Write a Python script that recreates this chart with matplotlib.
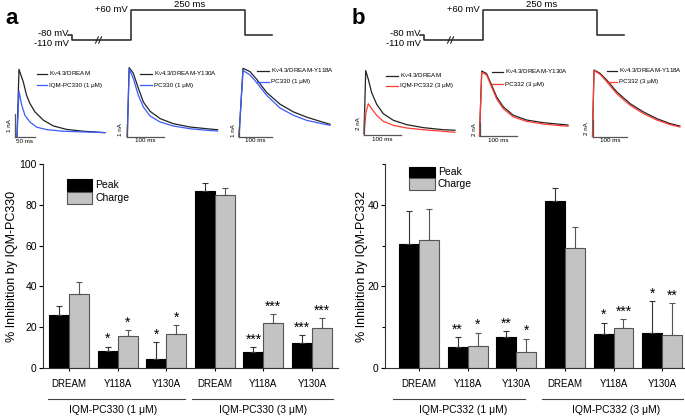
import numpy as np
import matplotlib
matplotlib.use('Agg')
import matplotlib.pyplot as plt
import matplotlib.transforms as mtransforms
from matplotlib.patches import Rectangle
from matplotlib.lines import Line2D

plt.rcParams['font.family'] = ['Liberation Sans', 'DejaVu Sans']
plt.rcParams['mathtext.fontset'] = 'custom'
plt.rcParams['mathtext.rm'] = 'Liberation Sans'

W, H = 685, 418

# ---- bar chart data ----
groups = ['DREAM', 'Y118A', 'Y130A', 'DREAM', 'Y118A', 'Y130A']

a_peak = [26, 8.5, 4.5, 87, 7.8, 12.5]
a_peak_err = [4.5, 2, 8.3, 3.7, 2.6, 3.5]
a_charge = [36.5, 15.5, 16.5, 85, 22, 19.5]
a_charge_err = [5.5, 3, 4.5, 3.3, 4.3, 4.8]
a_peak_stars = ['', '*', '*', '', '***', '***']
a_charge_stars = ['', '*', '*', '', '***', '***']

b_peak = [30.3, 5.2, 7.5, 41, 8.4, 8.7]
b_peak_err = [8.2, 2.3, 1.5, 3.1, 2.7, 7.7]
b_charge = [31.4, 5.5, 3.8, 29.4, 9.9, 8.0]
b_charge_err = [7.6, 3.2, 3.4, 5.2, 2.0, 7.9]
b_peak_stars = ['', '**', '**', '', '*', '*']
b_charge_stars = ['', '*', '*', '', '***', '**']

# ---- current traces (ms, nA) ----
a1_t_ctrl = [5, 10, 20.8, 29, 37.5, 50, 71, 96, 129, 171, 225]
a1_i_ctrl = [0, 2.94, 2.39, 1.81, 1.45, 1.09, 0.73, 0.48, 0.33, 0.25, 0.19]
a1_t_drug = [5, 10, 16.8, 25, 37.5, 54, 79, 121, 225]
a1_i_drug = [0, 1.99, 1.38, 0.94, 0.65, 0.43, 0.32, 0.25, 0.19]

a2_t = [2, 7.2, 18.4, 32, 45.6, 63.5, 90.5, 126, 171, 216, 246]
a2_i_ctrl = [0, 5.3, 4.86, 3.71, 2.65, 1.94, 1.38, 0.99, 0.73, 0.6, 0.52]
a2_i_drug = [0, 5.2, 4.46, 3.17, 2.27, 1.58, 1.12, 0.81, 0.6, 0.48, 0.42]

a3_t = [0, 12, 33, 53, 83, 123, 163, 203, 243, 273]
a3_i_ctrl = [0, 6.2, 5.9, 5.2, 4.0, 2.94, 2.24, 1.76, 1.38, 1.11]
a3_i_drug = [0, 6.0, 5.6, 4.9, 3.74, 2.59, 1.93, 1.47, 1.2, 1.02]

b1_t_ctrl = [1.4, 6, 13, 22, 35.6, 53.5, 80.5, 116.6, 161.5, 215.5, 247]
b1_i_ctrl = [0.1, 5.6, 4.84, 3.68, 2.67, 1.85, 1.28, 0.9, 0.64, 0.46, 0.41]
b1_t_drug = [1.4, 6.8, 13, 22, 35.6, 53.5, 80.5, 116.6, 161.5, 215.5, 247]
b1_i_drug = [0.1, 2.0, 2.72, 2.29, 1.71, 1.19, 0.84, 0.61, 0.46, 0.32, 0.23]

b2_t = [0, 6, 19, 33, 46.4, 64, 91, 127, 172, 208, 239]
b2_i_ctrl = [0, 10, 9.6, 7.8, 6.0, 4.5, 3.2, 2.46, 2.05, 1.85, 1.69]
b2_i_drug = [0, 9.8, 9.4, 7.5, 5.7, 4.2, 2.95, 2.25, 1.85, 1.65, 1.5]

b3_t = [0, 4.3, 21.5, 40.6, 69, 107, 145, 183, 221, 250]
b3_i_ctrl = [0, 8.06, 7.66, 6.85, 5.43, 4.0, 2.99, 2.18, 1.58, 1.27]
b3_i_drug = [0, 8.0, 7.54, 6.65, 5.19, 3.8, 2.79, 2.02, 1.45, 1.15]

# ---- voltage protocol (ms, mV) ----
prot_t = [-4, 4, 4, 133, 133, 383, 383, 442]
prot_v = [-80, -80, -110, -110, 60, 60, -80, -80]

fig = plt.figure(figsize=(W / 100, H / 100), dpi=100)


def px_axes(l, t, r, b):
    ax = fig.add_axes([l / W, 1 - b / H, (r - l) / W, (b - t) / H])
    return ax


def ftext(x, y, s, **kw):
    fig.text(x / W, 1 - y / H, s, **kw)


def fline(xs, ys, **kw):
    fig.add_artist(Line2D([x / W for x in xs], [1 - y / H for y in ys],
                          transform=fig.transFigure, **kw))


# ---- protocol sketches ----
def protocol(dx, letter):
    x0, k = 70 + dx, 2.19          # px of t=0, ms per px
    y0, s = 40, 30 / 170           # px of -110 mV, px per mV
    l, r, t, b = 55 + dx, 285 + dx, 0, 50
    ax = px_axes(l, t, r, b)
    ax.set_xlim((l - x0) * k, (r - x0) * k)
    ax.set_ylim(-110 - (b - y0) / s, -110 + (y0 - t) / s)
    ax.axis('off')
    ax.plot(prot_t, prot_v, color='#222222', lw=1.1)
    for tc in (59, 66):
        ax.plot([tc - 3, tc + 3], [-128, -92], color='#222222', lw=0.8)
    ftext(68 + dx, 33, '-80 mV', ha='right', va='center', fontsize=6.8)
    ftext(69 + dx, 43, '-110 mV', ha='right', va='center', fontsize=6.8)
    ftext(128 + dx, 9, '+60 mV', ha='right', va='center', fontsize=6.8)
    ftext(190 + dx, 4.5, '250 ms', ha='center', va='center', fontsize=6.8)
    ftext(5 + dx * 0.986, 19, letter, ha='left', va='center',
          fontsize=16, fontweight='bold')


protocol(0, 'a')
protocol(352, 'b')


# ---- current insets ----
def inset(bbox, x0, k, y0, s, tc, ic, td, idr, dcol, bar_ms, bar_na,
          leg, lab_ctrl, lab_drug):
    l, t, r, b = bbox
    ax = px_axes(l, t, r, b)
    ax.set_xlim((l - x0) * k, (r - x0) * k)
    ax.set_ylim((y0 - b) / s, (y0 - t) / s)
    ax.axis('off')
    ax.plot(tc, ic, color='#222222', lw=0.9)
    ax.plot(td, idr, color=dcol, lw=0.9)
    ax.plot([0, 0], [0, bar_na], color='#555555', lw=0.9)
    ax.plot([0, bar_ms], [0, 0], color='#555555', lw=0.9)
    ax.text(-3 * k, bar_na / 2, '%g nA' % bar_na, rotation=90, ha='right',
            va='center', fontsize=4.5)
    ax.text(bar_ms / 2, -2 / s, '%g ms' % bar_ms, ha='center', va='top',
            fontsize=4.5)
    lx0, lx1, ly0, ly1 = leg
    fline([lx0, lx1], [ly0, ly0], color='#222222', lw=0.9)
    fline([lx0, lx1], [ly1, ly1], color=dcol, lw=0.9)
    ftext(lx1 + 2, ly0, lab_ctrl, ha='left', va='center', fontsize=4.5)
    ftext(lx1 + 2, ly1, lab_drug, ha='left', va='center', fontsize=4.5)


kv = r'K$_\mathregular{V}$4.3/DREAM'
blue = '#3a5cff'
red = '#ff3b30'

inset((6, 60, 112, 146), 15, 2.5, 137, 23, a1_t_ctrl, a1_i_ctrl,
      a1_t_drug, a1_i_drug, blue, 50, 1, (37, 47, 74, 85), kv,
      'IQM-PC330 (1 \u03bcM)')
inset((118, 60, 225, 146), 126.5, 2.7, 136.5, 13, a2_t, a2_i_ctrl,
      a2_t, a2_i_drug, blue, 100, 1, (140, 151.7, 74, 85), kv + '-Y130A',
      'PC330 (1 \u03bcM)')
inset((232, 60, 340, 146), 239, 3.0, 136.5, 11, a3_t, a3_i_ctrl,
      a3_t, a3_i_drug, blue, 100, 1, (256.7, 269.3, 71, 81.7), kv + '-Y118A',
      'PC330 (1 \u03bcM)')
inset((352, 60, 465, 146), 363.5, 2.7, 135, 11.5, b1_t_ctrl, b1_i_ctrl,
      b1_t_drug, b1_i_drug, red, 100, 2, (386, 398.3, 76, 85.5), kv,
      'IQM-PC332 (3 \u03bcM)')
inset((470, 60, 580, 146), 479.5, 2.7, 136, 6.5, b2_t, b2_i_ctrl,
      b2_t, b2_i_drug, red, 100, 2, (491.7, 503.3, 71.7, 84.3),
      kv + '-Y130A', 'PC332 (3 \u03bcM)')
inset((584, 60, 685, 146), 592.5, 2.86, 136.5, 8.25, b3_t, b3_i_ctrl,
      b3_t, b3_i_drug, red, 100, 2, (606.7, 616.7, 70.7, 81.7),
      kv + '-Y118A', 'PC332 (3 \u03bcM)')


# ---- bar charts ----
def bars(bbox, xlim, ylim, yticks, minor, peak, perr, charge, cerr, pst, cst,
         ylabel, ylab_x, grp_labels, grp_lines, grp_text_x, legbox):
    ax = px_axes(*bbox)
    x = np.arange(len(groups))
    w = 0.41
    ax.bar(x - w / 2, peak, w, color='black', edgecolor='black', lw=0.8,
           zorder=2)
    ax.bar(x + w / 2, charge, w, color='#c3c3c3', edgecolor='#555555',
           lw=0.8, zorder=2)
    ax.errorbar(x - w / 2, peak, yerr=[np.zeros(len(x)), perr], fmt='none',
                ecolor='#333333', elinewidth=0.8, capsize=2, capthick=0.8,
                zorder=3)
    ax.errorbar(x + w / 2, charge, yerr=[np.zeros(len(x)), cerr], fmt='none',
                ecolor='#555555', elinewidth=0.8, capsize=2, capthick=0.8,
                zorder=3)
    for xi, v, e, st in zip(x - w / 2, peak, perr, pst):
        if st:
            ax.annotate(st, (xi, v + e), xytext=(0, 2.5),
                        textcoords='offset points', ha='center',
                        va='baseline', fontsize=10)
    for xi, v, e, st in zip(x + w / 2, charge, cerr, cst):
        if st:
            ax.annotate(st, (xi, v + e), xytext=(0, 2.5),
                        textcoords='offset points', ha='center',
                        va='baseline', fontsize=10)
    ax.set_xlim(*xlim)
    ax.set_ylim(*ylim)
    ax.set_xticks(x)
    ax.set_xticklabels(groups, fontsize=7)
    ax.set_yticks(yticks)
    ax.tick_params(axis='y', labelsize=7.5, length=3, width=0.8, pad=1.5)
    ax.tick_params(axis='x', length=2, width=0.8, pad=6)
    if minor:
        ax.set_yticks(minor, minor=True)
        ax.tick_params(axis='y', which='minor', length=2, width=0.8)
    for sp in ('top', 'right'):
        ax.spines[sp].set_visible(False)
    for sp in ('left', 'bottom'):
        ax.spines[sp].set_linewidth(0.8)
        ax.spines[sp].set_color('#333333')
    trans = mtransforms.blended_transform_factory(ax.transData, ax.transAxes)
    for (g0, g1), gx, lab in zip(grp_lines, grp_text_x, grp_labels):
        ax.plot([g0, g1], [-0.152, -0.152], color='#444444', lw=0.8,
                transform=trans, clip_on=False)
        ax.text(gx, -0.205, lab, transform=trans, ha='center', va='center',
                fontsize=7.5)
    ftext(ylab_x, 266, ylabel, rotation=90, ha='center', va='center',
          fontsize=9)
    lx0, lx1, t0, t1, t2 = legbox
    fig.add_artist(Rectangle((lx0 / W, 1 - t1 / H), (lx1 - lx0) / W,
                             (t1 - t0) / H, facecolor='black',
                             edgecolor='black', lw=0.8,
                             transform=fig.transFigure))
    fig.add_artist(Rectangle((lx0 / W, 1 - t2 / H), (lx1 - lx0) / W,
                             (t2 - t1) / H, facecolor='#c3c3c3',
                             edgecolor='#555555', lw=0.8,
                             transform=fig.transFigure))
    ftext(lx1 + 3, (t0 + t1) / 2, 'Peak', ha='left', va='center',
          fontsize=7.5)
    ftext(lx1 + 3, (t1 + t2) / 2, 'Charge', ha='left', va='center',
          fontsize=7.5)
    return ax


bars((43, 164, 338, 368), (-0.535, 5.535), (0, 100), [0, 20, 40, 60, 80, 100],
     None, a_peak, a_peak_err, a_charge, a_charge_err, a_peak_stars,
     a_charge_stars, '% Inhibition by IQM-PC330', 12,
     ['IQM-PC330 (1 \u03bcM)', 'IQM-PC330 (3 \u03bcM)'],
     [(-0.43, 2.39), (2.53, 5.43)], [0.9, 4.0], (67, 92, 179, 191.5, 204))

bars((385, 164, 685, 368), (-0.70, 5.47), (0, 50), [0, 20, 40],
     [10, 30, 50], b_peak, b_peak_err, b_charge, b_charge_err, b_peak_stars,
     b_charge_stars, '% Inhibition by IQM-PC332', 362,
     ['IQM-PC332 (1 \u03bcM)', 'IQM-PC332 (3 \u03bcM)'],
     [(-0.53, 2.18), (2.52, 5.43)], [0.9, 4.05], (409, 435, 166.5, 178, 190))

fig.savefig('out.png', dpi=100)
